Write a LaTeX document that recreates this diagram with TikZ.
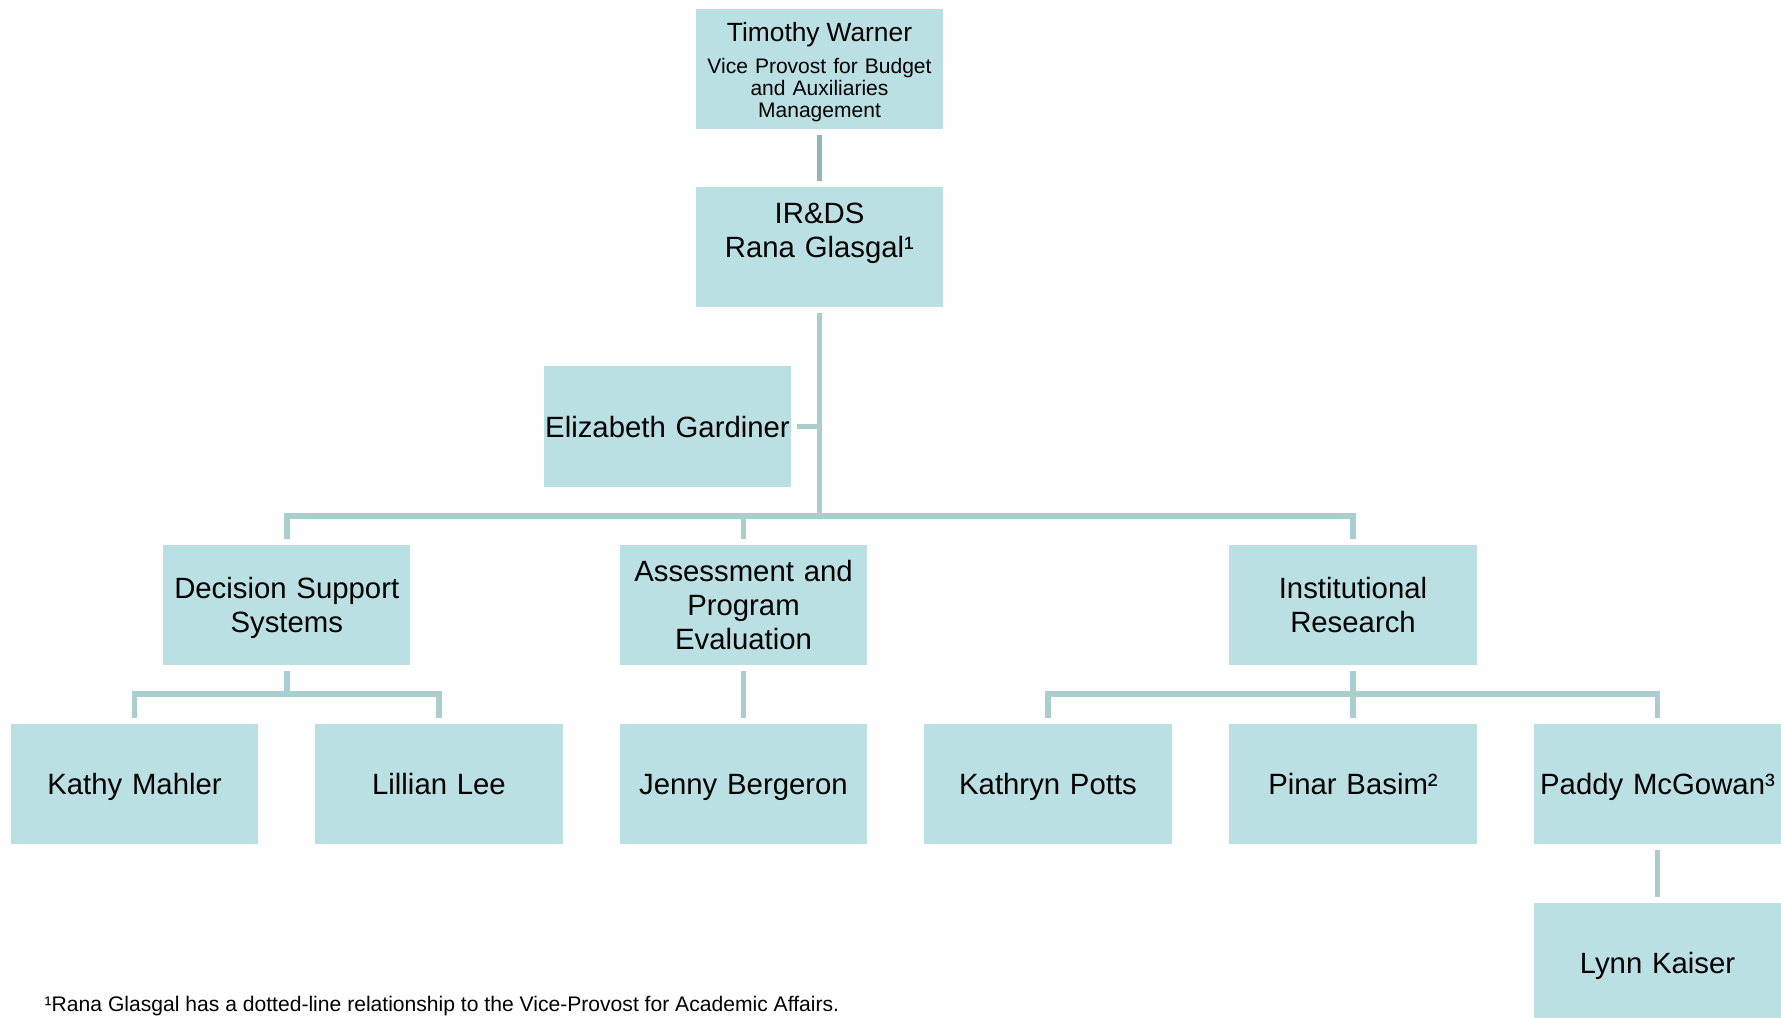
\documentclass[tikz,border=0pt]{standalone}
\usepackage{fontspec}
\setmainfont{Liberation Sans}
\usepackage{xcolor}
\usepackage{tikz}
\definecolor{boxfill}{HTML}{BBE0E3}
\definecolor{linkc}{HTML}{AACDD0}
\definecolor{linkd}{HTML}{94B5B8}
\definecolor{ink}{HTML}{000000}
\tikzset{
  box/.style={fill=boxfill, text=ink, minimum width=24.7mm, minimum height=12mm,
    text width=24.5mm, inner sep=0.1mm, outer sep=0.6mm, align=center,
    font=\fontsize{8.34pt}{9.67pt}\selectfont,
    execute at begin node={\rule{0pt}{7.5pt}}, execute at end node={\rule[-1.53pt]{0pt}{1.53pt}}},
  topbox/.style={box, execute at begin node={\rule{0pt}{6.8pt}}, execute at end node={},
    font=\fontsize{5.98pt}{6.26pt}\selectfont},
  link/.style={draw=linkc, line width=0.58mm, line join=miter},
  linktop/.style={link, draw=linkd},
  note/.style={text=ink, inner sep=0pt, anchor=base west,
    font=\fontsize{6pt}{7pt}\selectfont},
}
\begin{document}
\begin{tikzpicture}[x=0.01cm, y=-0.01cm]
  \useasboundingbox[fill=white] (0,0) rectangle (1781,1018);

  % top of the chart
  \node[topbox] (tw) at (819.5,69)
    {{\fontsize{7.49pt}{9pt}\selectfont Timothy Warner\par}\vspace{3.1pt}%
     Vice Provost for Budget\\and Auxiliaries\\Management};
  \node[box] (ir) at (819.5,247) {IR\&DS\\Rana Glasgal¹\\\mbox{}};
  \node[box] (eg) at (667.5,426.5) {Elizabeth Gardiner};

  % units
  \node[box] (dss) at (286.75,605) {Decision Support\\Systems};
  \node[box] (ape) at (743.5,605) {Assessment and\\Program\\Evaluation};
  \node[box] (inst) at (1353,605) {Institutional\\Research};

  % staff
  \node[box] (km) at (134.5,784) {Kathy Mahler};
  \node[box] (ll) at (439,784) {Lillian Lee};
  \node[box] (jb) at (743.5,784) {Jenny Bergeron};
  \node[box] (kp) at (1048,784) {Kathryn Potts};
  \node[box] (pb) at (1353,784) {Pinar Basim²};
  \node[box] (pm) at (1657.5,784) {Paddy McGowan³};
  \node[box] (lk) at (1657.5,963) {Lynn Kaiser};

  % bar junctions
  \coordinate (j0) at (819.5,516);
  \coordinate (j1) at (286.75,694);
  \coordinate (j3) at (1353,694);

  \draw[linktop] (tw.south) -- (ir.north);
  \draw[link] (ir.south) -- (j0) -| (dss.north);
  \draw[link] (j0) -| (ape.north);
  \draw[link] (j0) -| (inst.north);
  \draw[link] (eg.east) -- (eg.east -| j0);

  \draw[link] (dss.south) -- (j1) -| (km.north);
  \draw[link] (j1) -| (ll.north);
  \draw[link] (ape.south) -- (jb.north);
  \draw[link] (inst.south) -- (j3) -| (kp.north);
  \draw[link] (j3) -| (pm.north);
  \draw[link] (j3) -- (pb.north);
  \draw[link] (pm.south) -- (lk.north);

  \node[note] (fn) at (44,1011)
    {¹Rana Glasgal has a dotted-line relationship to the Vice-Provost for Academic Affairs.};
\end{tikzpicture}
\end{document}
